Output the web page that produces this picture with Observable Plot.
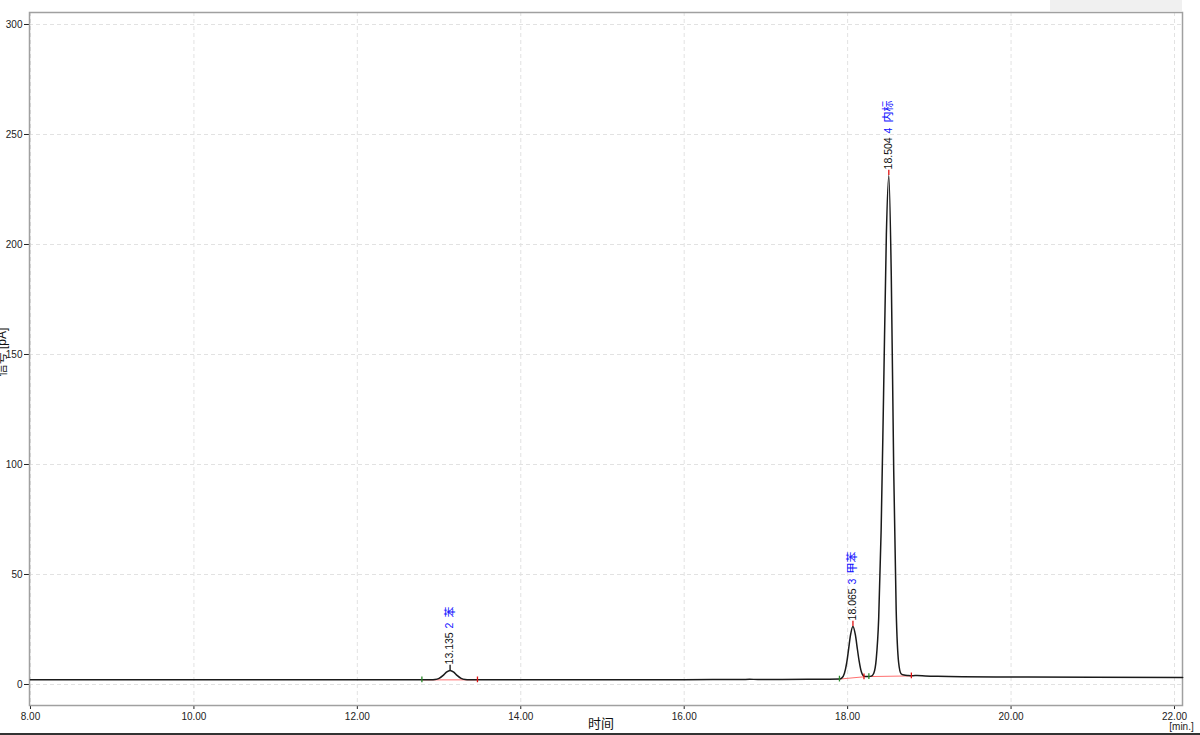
<!DOCTYPE html>
<html><head><meta charset="utf-8">
<script src="https://cdn.jsdelivr.net/npm/d3@7"></script>
<script src="https://cdn.jsdelivr.net/npm/@observablehq/plot@0.6"></script>
<style>
body{margin:0;background:#fff;}
#wrap{position:relative;width:1200px;height:735px;overflow:hidden;background:#fff;}
#topbox{position:absolute;left:1050px;top:0;width:132px;height:11px;background:#f0f0f0;}
#bottomline{position:absolute;left:0;top:733px;width:1200px;height:2px;background:#333;}
</style></head><body>
<div id="wrap"><div id="chart"></div><div id="topbox"></div><div id="bottomline"></div></div>
<script>
// Chromatogram trace: retention time [min.] and signal [pA]
const times = [8.00, 9.00, 10.00, 11.00, 12.00, 12.50, 12.80, 12.90, 12.95, 13.00, 13.05, 13.09, 13.135, 13.18, 13.22, 13.27, 13.32, 13.37, 13.45, 13.60, 14.00, 15.00, 16.00, 16.70, 16.80, 16.90, 17.20, 17.60, 17.90, 17.93, 17.96, 17.99, 18.01, 18.035, 18.065, 18.095, 18.12, 18.14, 18.16, 18.19, 18.22, 18.26, 18.29, 18.32, 18.35, 18.38, 18.41, 18.44, 18.474, 18.504, 18.534, 18.564, 18.594, 18.624, 18.654, 18.69, 18.74, 18.80, 18.85, 18.95, 19.10, 19.40, 20.00, 21.00, 22.10];
const signal = [2.10, 2.10, 2.10, 2.10, 2.10, 2.10, 2.10, 2.12, 2.23, 2.77, 4.16, 5.60, 6.40, 5.60, 4.16, 2.77, 2.23, 2.12, 2.10, 2.10, 2.10, 2.15, 2.20, 2.25, 2.35, 2.30, 2.30, 2.35, 2.50, 3.00, 5.00, 10.2, 15.5, 22.4, 26.4, 22.5, 15.9, 10.8, 6.9, 4.1, 3.6, 3.6, 3.8, 5.1, 11.5, 30.0, 70.0, 132.0, 204.5, 231.4, 186.0, 97.0, 34.0, 10.0, 4.9, 4.3, 4.1, 4.0, 4.1, 3.9, 3.7, 3.5, 3.4, 3.3, 3.2];

// Integration limits (start = green, end = red) and baseline levels
const peakStart = [12.79, 17.90, 18.26];
const startLevel = [2.10, 2.45, 3.60];
const peakEnd = [13.47, 18.20, 18.78];
const endLevel = [2.10, 3.50, 3.90];

// Peak annotations
const peakTimes = [13.135, 18.065, 18.504];
const peakHeights = [6.4, 26.4, 231.4];
const peakNumbers = ["2", "3", "4"];
const peakNames = ["苯", "甲苯", "内标"];
const peakLabels = ["13.135", "18.065", "18.504"];
const apexColors = ["#111111", "#e01010", "#e01010"];

// Axes
const xTicks = [8, 10, 12, 14, 16, 18, 20, 22];
const yTicks = [0, 50, 100, 150, 200, 250, 300];
const xTitle = "时间";
const xUnit = "[min.]";
const yTitle = "信号 [pA]";

const trace = times.map((t, i) => ({t, v: signal[i]}));
const pk = d3.range(peakStart.length);
const ap = d3.range(peakTimes.length);

const font = "'Liberation Sans', 'Noto Sans CJK SC', sans-serif";

const chart = Plot.plot({
  width: 1200, height: 735,
  marginLeft: 29, marginRight: 18, marginTop: 12, marginBottom: 30,
  style: {fontFamily: font, fontSize: "10px", color: "#222", background: "transparent", overflow: "hidden"},
  x: {domain: [7.988, 22.098], ticks: xTicks, tickFormat: d3.format(".2f"), tickSize: 4, tickPadding: 3, label: null},
  y: {domain: [-9.55, 305.45], ticks: yTicks, tickSize: 5, tickPadding: 2, label: null},
  marks: [
    Plot.ruleX(xTicks, {stroke: "#e2e2e2", strokeDasharray: "4,3", strokeWidth: 1}),
    Plot.ruleY(yTicks, {stroke: "#e2e2e2", strokeDasharray: "4,3", strokeWidth: 1}),
    Plot.frame({stroke: "#a0a0a0", strokeWidth: 1.5}),
    Plot.link(pk, {x1: i => peakStart[i], y1: i => startLevel[i], x2: i => peakEnd[i], y2: i => endLevel[i], stroke: "#ff7070", strokeWidth: 1}),
    Plot.line(trace, {x: "t", y: "v", stroke: "#1a1a1a", strokeWidth: 1.5, curve: "monotone-x"}),
    Plot.ruleX(pk, {x: i => peakStart[i], y1: i => startLevel[i] - 1.3, y2: i => startLevel[i] + 1.3, stroke: "#2a8a2a", strokeWidth: 1.3}),
    Plot.ruleX(pk, {x: i => peakEnd[i], y1: i => endLevel[i] - 1.3, y2: i => endLevel[i] + 1.3, stroke: "#e01010", strokeWidth: 1.3}),
    Plot.ruleX(ap, {x: i => peakTimes[i], y1: i => peakHeights[i], y2: i => peakHeights[i] + 2.3, stroke: i => apexColors[i], strokeWidth: 1.3}),
    Plot.text(ap, {x: i => peakTimes[i], y: i => peakHeights[i], text: i => peakLabels[i], rotate: -90, textAnchor: "start", dy: -6, fill: "#111", fontSize: 10.5}),
    Plot.text(ap, {x: i => peakTimes[i], y: i => peakHeights[i], text: i => peakNumbers[i], rotate: -90, textAnchor: "start", dy: -42, fill: "#1010ff", fontSize: 10.5}),
    Plot.text(ap, {x: i => peakTimes[i], y: i => peakHeights[i], text: i => peakNames[i], rotate: -90, textAnchor: "start", dy: -53, fill: "#1010ff", fontSize: 11}),
    Plot.text([xTitle], {frameAnchor: "bottom", dx: -5, dy: 22, textAnchor: "middle", fontSize: 13, fill: "#111"}),
    Plot.text([xUnit], {frameAnchor: "bottom-right", dx: -1, dy: 24, textAnchor: "middle", fontSize: 10, fill: "#222"}),
    Plot.text([yTitle], {frameAnchor: "left", dx: -27, dy: -7, rotate: -90, textAnchor: "middle", lineAnchor: "middle", fontSize: 12, fill: "#111"})
  ]
});
document.getElementById("chart").appendChild(chart);
</script>
</body></html>
